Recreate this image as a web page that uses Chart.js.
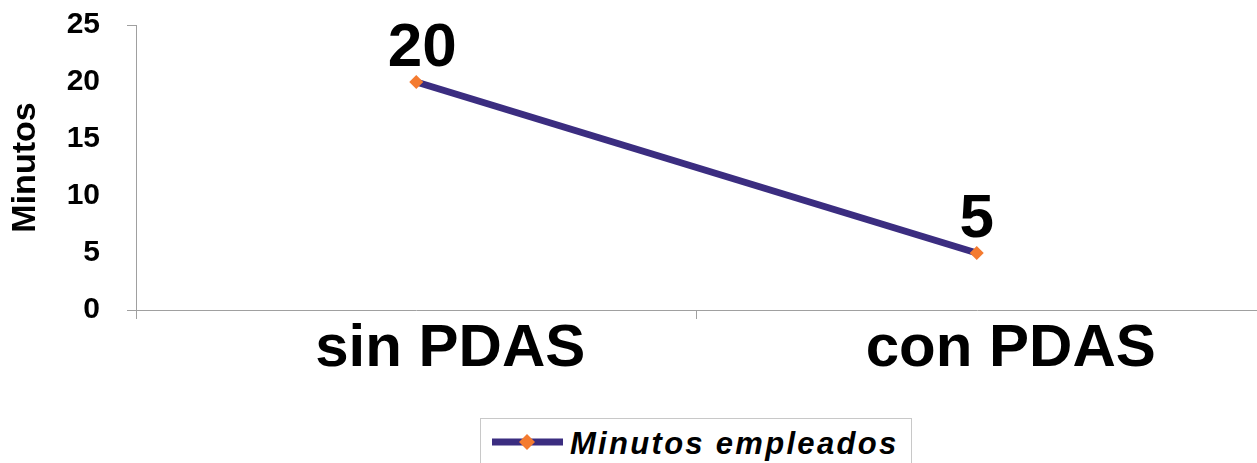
<!DOCTYPE html>
<html>
<head>
<meta charset="utf-8">
<script src="https://cdn.jsdelivr.net/npm/chart.js@4.4.0/dist/chart.umd.min.js"></script>
<style>
  html, body { margin: 0; padding: 0; background: #fff; }
  #wrap { position: relative; width: 1257px; height: 463px; overflow: hidden; }
  #chart { position: absolute; left: 0; top: 0; }
  #legend {
    position: absolute; left: 480px; top: 418px; width: 432px; height: 70px;
    border: 1px solid #c8c8c8; box-sizing: border-box;
  }
  #legend svg { position: absolute; left: 11px; top: 14px; }
  #legend span {
    position: absolute; left: 89px; top: 7px;
    font: italic bold 31px "Liberation Sans", Arial, sans-serif;
    letter-spacing: 2.3px; color: #000; white-space: nowrap;
  }
</style>
</head>
<body>
<div id="wrap">
  <canvas id="chart" width="1257" height="400"></canvas>
  <div id="legend">
    <svg width="72" height="18">
      <line x1="0" y1="9" x2="71" y2="9" stroke="#3B2D80" stroke-width="7"/>
      <polygon points="35,1 43,9 35,17 27,9" fill="#F47B30"/>
    </svg>
    <span id="legendText"></span>
  </div>
</div>
<script>
const categories = ['sin PDAS', 'con PDAS'];
const minutos = [20, 5];
const seriesName = 'Minutos empleados';
const yTitle = 'Minutos';

const FONT = '"Liberation Sans", Arial, sans-serif';
const LINE = '#3B2D80';
const MARK = '#F47B30';
const AXIS = '#a0a0a0';

document.getElementById('legendText').textContent = seriesName;

// draw the big value labels above each point
const valueLabels = {
  id: 'valueLabels',
  afterDatasetsDraw(chart) {
    const ctx = chart.ctx;
    const meta = chart.getDatasetMeta(0);
    ctx.save();
    ctx.font = 'bold 62px ' + FONT;
    ctx.fillStyle = '#000';
    ctx.textAlign = 'center';
    ctx.textBaseline = 'alphabetic';
    meta.data.forEach((pt, i) => {
      ctx.fillText(String(minutos[i]), pt.x + (i === 0 ? 6 : 0), pt.y - 16);
    });
    ctx.restore();
  },
};

new Chart(document.getElementById('chart'), {
  type: 'line',
  data: {
    labels: categories,
    datasets: [{
      label: seriesName,
      data: minutos,
      borderColor: LINE,
      borderWidth: 7,
      tension: 0,
      pointStyle: 'rectRot',
      pointRadius: 7,
      pointBackgroundColor: MARK,
      pointBorderWidth: 0,
      pointHoverRadius: 7,
    }],
  },
  options: {
    responsive: false,
    animation: false,
    layout: { autoPadding: false, padding: { top: 25, left: 0, right: 0, bottom: 0 } },
    plugins: {
      legend: { display: false },
      tooltip: { enabled: false },
    },
    scales: {
      x: {
        offset: true,
        afterFit: (s) => { s.height = 90; },
        grid: { offset: true, drawOnChartArea: false, tickLength: 9, color: AXIS },
        border: { color: AXIS },
        ticks: {
          color: '#000',
          font: { family: FONT, size: 60, weight: 'bold', lineHeight: 1 },
          labelOffset: 34,
          padding: 0,
          maxRotation: 0,
        },
      },
      y: {
        min: 0,
        max: 25,
        afterFit: (s) => { s.width = 136; s.paddingTop = 0; s.paddingBottom = 0; },
        grid: {
          drawOnChartArea: false,
          tickLength: 9,
          tickColor: (c) => (c.tick && (c.tick.value === 0 || c.tick.value === 25) ? AXIS : 'rgba(0,0,0,0)'),
        },
        border: { color: AXIS },
        ticks: {
          stepSize: 5,
          color: '#000',
          padding: 27,
          font: { family: FONT, size: 30, weight: 'bold' },
        },
        title: {
          display: true,
          text: yTitle,
          color: '#000',
          padding: 5,
          font: { family: FONT, size: 34, weight: 'bold' },
        },
      },
    },
  },
  plugins: [valueLabels],
});
</script>
</body>
</html>
